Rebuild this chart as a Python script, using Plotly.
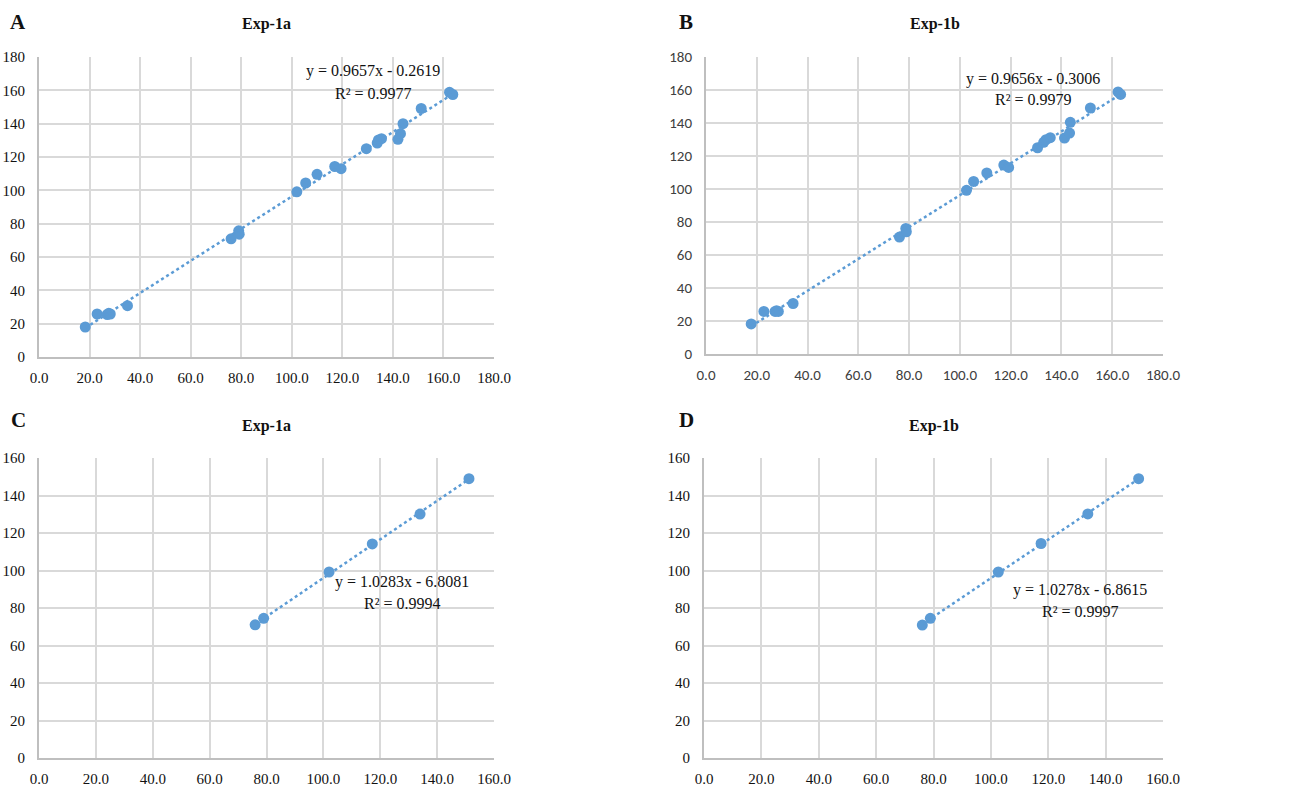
import plotly.graph_objects as go

# ---------------- data ----------------
a_x = [18.3, 23.0, 27.0, 27.6, 28.2, 35.0, 76.0, 79.0, 79.2, 102.0, 105.5, 110.0, 117.0, 119.5,
       129.5, 133.8, 134.3, 135.5, 142.0, 143.0, 144.0, 151.2, 162.4, 163.7]
a_y = [18.0, 25.8, 25.5, 26.2, 25.8, 30.8, 70.9, 75.7, 73.7, 99.1, 104.4, 109.6, 114.3, 113.0,
       125.0, 128.4, 130.2, 131.0, 130.6, 134.0, 140.0, 149.1, 158.8, 157.5]

b_x = [17.8, 22.8, 27.2, 27.8, 28.5, 34.3, 76.2, 78.7, 78.9, 102.6, 105.4, 110.6, 117.3, 119.2,
       130.6, 133.0, 133.9, 135.6, 141.2, 143.2, 143.5, 151.4, 162.3, 163.3]
b_y = [18.2, 25.8, 25.8, 26.2, 25.8, 30.6, 70.9, 76.1, 74.1, 99.2, 104.6, 109.7, 114.5, 113.1,
       125.0, 128.3, 129.9, 131.1, 130.9, 133.9, 140.4, 149.1, 158.8, 157.3]

c_x = [76.0, 79.0, 102.0, 117.2, 134.0, 151.2]
c_y = [71.0, 74.5, 99.2, 114.2, 130.1, 149.0]

d_x = [76.1, 78.9, 102.6, 117.5, 133.8, 151.5]
d_y = [70.9, 74.5, 99.2, 114.4, 130.2, 149.0]

slopes = [0.9657, 0.9656, 1.0283, 1.0278]
intercepts = [-0.2619, -0.3006, -6.8081, -6.8615]
r2_values = [0.9977, 0.9979, 0.9994, 0.9997]

panel_letters = ["A", "B", "C", "D"]
panel_titles = ["Exp-1a", "Exp-1b", "Exp-1a", "Exp-1b"]
x_max = [180, 180, 160, 160]
y_max = [180, 180, 160, 160]

# ---------------- layout geometry (pixels) ----------------
W, H = 1311, 787
# left, right, top, bottom of plot areas
boxes = [(39, 494, 57, 357), (706, 1163, 57, 354), (39, 494, 458, 758), (704, 1163, 458, 758)]
eq_pos = [(373, 71, 93), (1033, 79, 100), (402, 582, 603), (1080, 590, 611)]

BLUE = "#5b9bd5"
SERIF = "Liberation Serif, Times New Roman, serif"
SANS = "Carlito, Lato, Noto Sans, sans-serif"

fig = go.Figure()
series = [(a_x, a_y), (b_x, b_y), (c_x, c_y), (d_x, d_y)]

for i, (xs, ys) in enumerate(series):
    n = "" if i == 0 else str(i + 1)
    xa, ya = "x" + n, "y" + n
    fig.add_trace(go.Scatter(x=xs, y=ys, mode="markers", xaxis=xa, yaxis=ya,
                             marker=dict(color=BLUE, size=11, line=dict(width=0)),
                             showlegend=False, hoverinfo="x+y"))
    x0, x1 = min(xs), max(xs)
    fig.add_trace(go.Scatter(x=[x0, x1], y=[slopes[i] * x0 + intercepts[i], slopes[i] * x1 + intercepts[i]],
                             mode="lines", xaxis=xa, yaxis=ya,
                             line=dict(color=BLUE, width=2.5, dash="dot"),
                             showlegend=False, hoverinfo="skip"))
    l, r, t, b = boxes[i]
    tickfont = dict(family=SANS if i == 1 else SERIF, size=15,
                    color="#404040" if i == 1 else "#111111")
    axis_common = dict(showgrid=True, gridcolor="#d9d9d9", gridwidth=1.5,
                       showline=True, linecolor="#bfbfbf", linewidth=2,
                       zeroline=False, ticks="outside", tickcolor="rgba(0,0,0,0)",
                       tickfont=tickfont, fixedrange=True, automargin=False)
    fig.update_layout({
        "xaxis" + n: dict(domain=[l / W, r / W], anchor=ya, range=[0, x_max[i]], ticklen=6,
                          dtick=20, tick0=0, tickformat=".1f", **axis_common),
        "yaxis" + n: dict(domain=[1 - b / H, 1 - t / H], anchor=xa, range=[0, y_max[i]], ticklen=9,
                          dtick=20, tick0=0, tickformat="d", **axis_common),
    })

    # titles / letters / equations
    cx = (l + r) / 2
    fig.add_annotation(x=cx / W, y=1 - (24 if i < 2 else 426) / H, xref="paper", yref="paper",
                       xanchor="center", yanchor="middle",
                       text="<b>%s</b>" % panel_titles[i], showarrow=False,
                       font=dict(family=SERIF, size=16, color="#111111"))
    lx = 18 if i % 2 == 0 else 686
    fig.add_annotation(x=lx / W, y=1 - (22 if i < 2 else 420) / H, xref="paper", yref="paper",
                       xanchor="center", yanchor="middle",
                       text="<b>%s</b>" % panel_letters[i], showarrow=False,
                       font=dict(family=SERIF, size=21, color="#111111"))
    ex, ey1, ey2 = eq_pos[i]
    sign = "-" if intercepts[i] < 0 else "+"
    fig.add_annotation(x=ex / W, y=1 - ey1 / H, xref="paper", yref="paper",
                       xanchor="center", yanchor="middle",
                       text="y = %.4fx %s %.4f" % (slopes[i], sign, abs(intercepts[i])),
                       showarrow=False, font=dict(family=SERIF, size=16, color="#111111"))
    fig.add_annotation(x=ex / W, y=1 - ey2 / H, xref="paper", yref="paper",
                       xanchor="center", yanchor="middle",
                       text="R² = %.4f" % r2_values[i],
                       showarrow=False, font=dict(family=SERIF, size=16, color="#111111"))

fig.update_layout(template="none", width=W, height=H, margin=dict(l=0, r=0, t=0, b=0, pad=0),
                  paper_bgcolor="white", plot_bgcolor="white", showlegend=False)

fig.write_html("out.html", config={"displayModeBar": False},
               post_script="document.body.style.margin='0';document.body.style.overflow='hidden';")
